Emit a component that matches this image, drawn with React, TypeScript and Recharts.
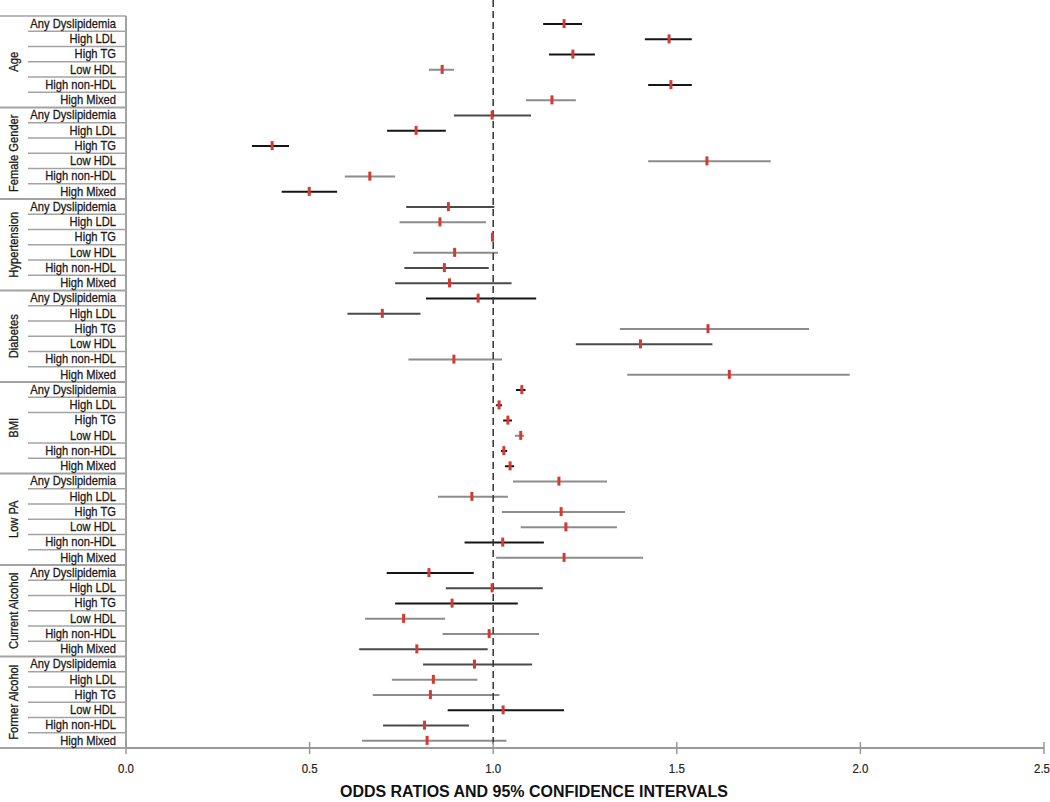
import { Bar, Cell, ComposedChart, ReferenceLine, Scatter, XAxis, YAxis } from "recharts";

const groups = [
  "Age",
  "Female Gender",
  "Hypertension",
  "Diabetes",
  "BMI",
  "Low PA",
  "Current Alcohol",
  "Former Alcohol",
];
const outcomes = ["Any Dyslipidemia", "High LDL", "High TG", "Low HDL", "High non-HDL", "High Mixed"];

// one value per group x outcome, in the order above
const oddsRatio = [
  1.193, 1.479, 1.217, 0.861, 1.484, 1.16, // Age
  0.997, 0.79, 0.398, 1.582, 0.664, 0.499, // Female Gender
  0.878, 0.855, 0.998, 0.895, 0.867, 0.881, // Hypertension
  0.959, 0.698, 1.585, 1.401, 0.893, 1.643, // Diabetes
  1.078, 1.016, 1.04, 1.075, 1.029, 1.046, // BMI
  1.179, 0.942, 1.185, 1.198, 1.026, 1.193, // Low PA
  0.825, 0.997, 0.888, 0.756, 0.989, 0.792, // Current Alcohol
  0.949, 0.837, 0.829, 1.027, 0.813, 0.82, // Former Alcohol
];
const ciLow = [
  1.136, 1.413, 1.152, 0.825, 1.422, 1.089,
  0.893, 0.711, 0.343, 1.422, 0.596, 0.424,
  0.763, 0.745, 0.995, 0.782, 0.758, 0.733,
  0.817, 0.603, 1.345, 1.225, 0.769, 1.365,
  1.062, 1.008, 1.027, 1.059, 1.021, 1.032,
  1.054, 0.85, 1.024, 1.075, 0.922, 1.008,
  0.71, 0.871, 0.733, 0.651, 0.862, 0.635,
  0.809, 0.724, 0.672, 0.876, 0.7, 0.643,
];
const ciHigh = [
  1.242, 1.541, 1.277, 0.893, 1.541, 1.225,
  1.103, 0.871, 0.444, 1.756, 0.733, 0.575,
  1.003, 0.98, 1.002, 1.013, 0.988, 1.05,
  1.117, 0.802, 1.86, 1.597, 1.024, 1.971,
  1.088, 1.024, 1.051, 1.084, 1.038, 1.057,
  1.31, 1.04, 1.359, 1.337, 1.138, 1.408,
  0.947, 1.135, 1.067, 0.869, 1.125, 0.985,
  1.106, 0.957, 1.017, 1.193, 0.934, 1.036,
];
const xTicks = [0, 0.5, 1, 1.5, 2, 2.5];

// shade of each CI line (k black, d dark grey, g grey)
const ciShade = [
  "k", "k", "k", "g", "k", "g",
  "d", "k", "k", "g", "g", "k",
  "d", "g", "k", "g", "d", "d",
  "k", "d", "g", "d", "g", "g",
  "k", "k", "k", "g", "k", "k",
  "g", "g", "g", "g", "k", "g",
  "k", "d", "k", "g", "g", "d",
  "d", "g", "g", "k", "d", "g",
];
const shadeColor: Record<string, string> = { k: "#151515", d: "#4a4a4a", g: "#8c8c8c" };

const W = 1050;
const H = 802;
const TOP = 16;
const LEFT = 126;
const BOTTOM = 54;
const ROW_H = (H - TOP - BOTTOM) / (groups.length * outcomes.length);
const FONT = '"Liberation Sans", Arial, sans-serif';
const SQUEEZE = 0.86; // narrow the sans glyphs, the original used a condensed face
const GRID = "#a3a3a3";
const INK = "#1a1a1a";

const rows = groups.flatMap((g, gi) =>
  outcomes.map((o, oi) => {
    const i = gi * outcomes.length + oi;
    return {
      id: `${g}|${o}`,
      group: g,
      outcome: o,
      or: oddsRatio[i],
      ci: [ciLow[i], ciHigh[i]],
    };
  })
);
const rowIndex: Record<string, number> = {};
rows.forEach((r, i) => (rowIndex[r.id] = i));

function RowTick(props: any) {
  const { y, payload } = props;
  const i = rowIndex[payload.value];
  const row = rows[i];
  const oi = i % outcomes.length;
  const lastInGroup = oi === outcomes.length - 1;
  const skipLine = row.group === "BMI" && row.outcome === "High TG";
  const gy = y + ROW_H * 2.5;
  const textProps = {
    x: 0,
    y: 0,
    dominantBaseline: "central" as const,
    fontFamily: FONT,
    fontSize: 13,
    fill: INK,
    stroke: INK,
    strokeWidth: 0.3,
  };
  return (
    <g>
      {i === 0 && <line x1={0} x2={LEFT} y1={y - ROW_H / 2} y2={y - ROW_H / 2} stroke={GRID} strokeWidth={1.5} />}
      {!skipLine && (
        <line
          x1={lastInGroup ? 0 : 28}
          x2={LEFT}
          y1={y + ROW_H / 2}
          y2={y + ROW_H / 2}
          stroke={GRID}
          strokeWidth={lastInGroup ? 2 : 1.5}
        />
      )}
      <g transform={`translate(116 ${y}) scale(${SQUEEZE} 1)`}>
        <text {...textProps} textAnchor="end">
          {row.outcome}
        </text>
      </g>
      {oi === 0 && (
        <g transform={`translate(14 ${gy}) rotate(-90) scale(${SQUEEZE} 1)`}>
          <text {...textProps} textAnchor="middle">
            {row.group}
          </text>
        </g>
      )}
    </g>
  );
}

function ValueTick(props: any) {
  const { x, y, payload } = props;
  // keep the last label inside the picture
  const lx = Math.min(x, W - 8);
  return (
    <g>
      <line x1={x} x2={x} y1={y - 6} y2={y + 6} stroke="#999" strokeWidth={1.5} />
      <g transform={`translate(${lx} ${y + 21}) scale(0.88 1)`}>
        <text
          x={0}
          y={0}
          textAnchor="middle"
          dominantBaseline="central"
          fontFamily={FONT}
          fontSize={13}
          fill="#222"
          stroke="#222"
          strokeWidth={0.2}
        >
          {Number(payload.value).toFixed(1)}
        </text>
      </g>
    </g>
  );
}

function AxisTitle(props: any) {
  const { viewBox } = props;
  const cx = viewBox.x + viewBox.width / 2 - 51;
  const by = viewBox.y + viewBox.height - 5;
  return (
    <g transform={`translate(${cx} ${by}) scale(0.94 1)`}>
      <text x={0} y={0} textAnchor="middle" fontFamily={FONT} fontSize={17} fontWeight={700} fill="#111">
        ODDS RATIOS AND 95% CONFIDENCE INTERVALS
      </text>
    </g>
  );
}

function OrMark(props: any) {
  const { cx, cy } = props;
  if (cx == null || cy == null) return null;
  return <rect x={cx - 1.5} y={cy - 4.5} width={3} height={9} fill="#d43a34" />;
}

export default function App() {
  return (
    <div style={{ position: "absolute", left: 0, top: 0, background: "#fff" }}>
      <ComposedChart
        width={W}
        height={H}
        data={rows}
        layout="vertical"
        margin={{ top: TOP, right: 6, left: 0, bottom: 0 }}
      >
        <XAxis
          type="number"
          domain={[0, 2.5]}
          ticks={xTicks}
          interval={0}
          height={BOTTOM}
          tickLine={false}
          tickSize={0}
          tickMargin={0}
          axisLine={{ stroke: "#999", strokeWidth: 2 }}
          tick={<ValueTick />}
          label={{ content: <AxisTitle /> }}
        />
        <YAxis
          type="category"
          dataKey="id"
          width={LEFT}
          interval={0}
          tickLine={false}
          axisLine={{ stroke: GRID, strokeWidth: 2 }}
          tick={<RowTick />}
        />
        <Bar dataKey="ci" barSize={2} isAnimationActive={false}>
          {rows.map((r, i) => (
            <Cell key={r.id} fill={shadeColor[ciShade[i]]} />
          ))}
        </Bar>
        <ReferenceLine
          x={1}
          ifOverflow="visible"
          shape={(p: any) => (
            <line
              x1={p.x1}
              x2={p.x2}
              y1={0}
              y2={Math.max(p.y1, p.y2)}
              stroke="#333"
              strokeWidth={1.5}
              strokeDasharray="7 4"
            />
          )}
        />
        <Scatter dataKey="or" shape={<OrMark />} isAnimationActive={false} />
      </ComposedChart>
    </div>
  );
}
